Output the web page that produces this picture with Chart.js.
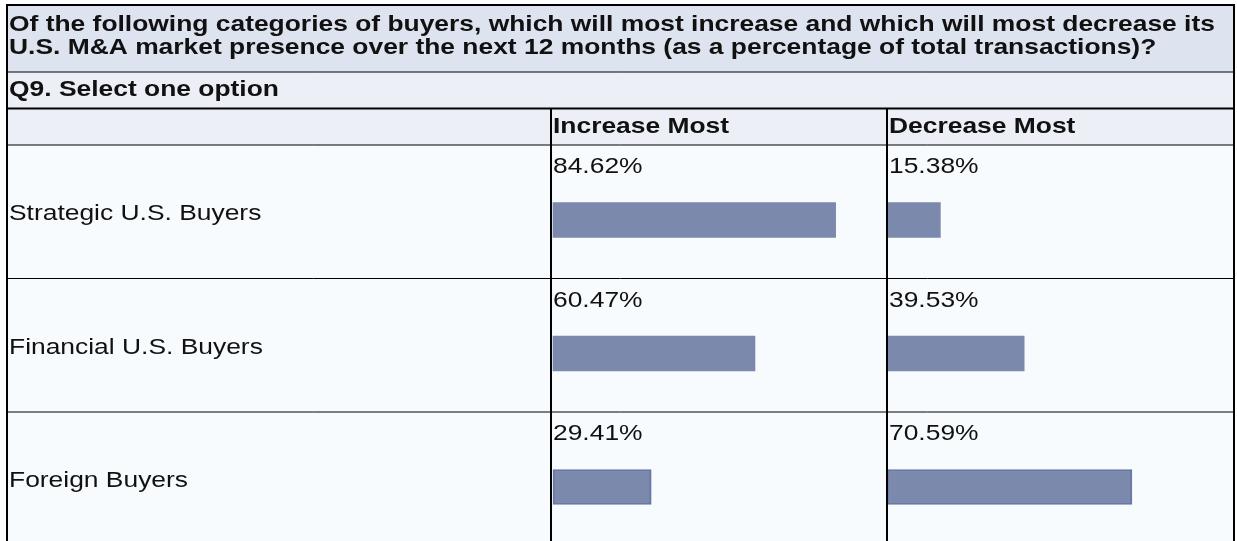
<!DOCTYPE html>
<html lang="en">
<head>
    <meta charset="UTF-8">
    <title>Q9. Buyer categories - U.S. M&amp;A market presence</title>
    <script src="https://cdn.jsdelivr.net/npm/chart.js"></script>
    <style>
        body { margin: 0; background: #ffffff; }
        canvas { display: block; }
    </style>
</head>
<body>
    <canvas id="surveyChart" width="1237" height="541"></canvas>

    <script>
        // Survey question and answer data
        const titleLines = [
            'Of the following categories of buyers, which will most increase and which will most decrease its',
            'U.S. M&A market presence over the next 12 months (as a percentage of total transactions)?'
        ];
        const questionLabel = 'Q9. Select one option';
        const columnHeaders = ['Increase Most', 'Decrease Most'];
        const categories = ['Strategic U.S. Buyers', 'Financial U.S. Buyers', 'Foreign Buyers'];
        const increaseMost = [84.62, 60.47, 29.41];
        const decreaseMost = [15.38, 39.53, 70.59];

        const barColor = '#7b89ac';
        const barEdge = '#6878a5';
        const FONT = '"Liberation Sans", Arial, sans-serif';
        const STRETCH = 1.2;

        // draws text a little wider than the font's natural metrics
        function wideText(ctx, text, x, y, font) {
            ctx.save();
            ctx.font = font;
            ctx.textBaseline = 'middle';
            ctx.textAlign = 'left';
            ctx.translate(x, y);
            ctx.scale(STRETCH, 1);
            ctx.fillText(text, 0, 0);
            ctx.restore();
        }

        function hLine(ctx, x1, x2, y, w) {
            ctx.lineWidth = w;
            ctx.beginPath();
            ctx.moveTo(x1, y);
            ctx.lineTo(x2, y);
            ctx.stroke();
        }

        function vLine(ctx, x, y1, y2, w) {
            ctx.lineWidth = w;
            ctx.beginPath();
            ctx.moveTo(x, y1);
            ctx.lineTo(x, y2);
            ctx.stroke();
        }

        // table geometry taken from the chart's own scales
        function tableGeometry(chart) {
            const y = chart.scales.y;
            const inc = chart.scales.xInc;
            const dec = chart.scales.xDec;
            const rows = categories.map((c, i) => {
                const mid = y.getPixelForValue(i);
                return { mid: mid, top: mid - 75, text: mid - 53 };
            });
            return {
                left: 7,
                right: chart.width - 3,
                bottom: chart.height,
                col1: inc.left - 2,
                col2: dec.left,
                incX: inc.left,
                decX: dec.left + 2,
                titleBottom: 72,
                questionBottom: 108.5,
                headerBottom: rows[0].top,
                rows: rows
            };
        }

        const tablePlugin = {
            id: 'surveyTable',
            beforeDraw(chart) {
                const ctx = chart.ctx;
                const g = tableGeometry(chart);
                ctx.save();
                ctx.fillStyle = '#ffffff';
                ctx.fillRect(0, 0, chart.width, chart.height);
                ctx.fillStyle = '#dde3ef';
                ctx.fillRect(g.left, 5, g.right - g.left, g.titleBottom - 5);
                ctx.fillStyle = '#edeff7';
                ctx.fillRect(g.left, g.titleBottom, g.right - g.left, g.headerBottom - g.titleBottom);
                ctx.fillStyle = '#f7fbfd';
                ctx.fillRect(g.left, g.headerBottom, g.right - g.left, g.bottom - g.headerBottom);
                ctx.restore();
            },
            afterDatasetsDraw(chart) {
                const ctx = chart.ctx;
                const g = tableGeometry(chart);
                ctx.save();
                ctx.strokeStyle = '#000000';

                // outer frame
                hLine(ctx, g.left - 1, g.right + 1, 5, 2);
                vLine(ctx, g.left, 5, g.bottom, 2);
                vLine(ctx, g.right, 5, g.bottom, 2);

                // row separators
                hLine(ctx, g.left, g.right, g.titleBottom, 1);
                hLine(ctx, g.left, g.right, g.questionBottom, 2);
                g.rows.forEach(r => hLine(ctx, g.left, g.right, r.top, 1));

                // column separators
                vLine(ctx, g.col1, g.questionBottom, g.bottom, 2);
                vLine(ctx, g.col2, g.questionBottom, g.bottom, 2);

                // texts
                ctx.fillStyle = '#111111';
                const bold = 'bold 22px ' + FONT;
                const plain = '22px ' + FONT;
                wideText(ctx, titleLines[0], 9, 25, bold);
                wideText(ctx, titleLines[1], 9, 48, bold);
                wideText(ctx, questionLabel, 9, 90, bold);
                wideText(ctx, columnHeaders[0], g.incX, 127, bold);
                wideText(ctx, columnHeaders[1], g.decX, 127, bold);

                g.rows.forEach((r, i) => {
                    wideText(ctx, categories[i], 9, r.mid - 6, plain);
                    wideText(ctx, increaseMost[i].toFixed(2) + '%', g.incX, r.text, plain);
                    wideText(ctx, decreaseMost[i].toFixed(2) + '%', g.decX, r.text, plain);
                });
                ctx.restore();
            }
        };

        const config = {
            type: 'bar',
            data: {
                labels: categories,
                datasets: [{
                    label: columnHeaders[0],
                    data: increaseMost,
                    xAxisID: 'xInc',
                    backgroundColor: barColor,
                    borderColor: barEdge,
                    borderWidth: [0, 0, 2],
                    borderSkipped: false,
                    barThickness: 35,
                    clip: false
                }, {
                    label: columnHeaders[1],
                    data: decreaseMost,
                    xAxisID: 'xDec',
                    backgroundColor: barColor,
                    borderColor: barEdge,
                    borderWidth: [0, 0, 2],
                    borderSkipped: false,
                    barThickness: 35,
                    clip: false
                }]
            },
            options: {
                indexAxis: 'y',
                grouped: false,
                responsive: false,
                animation: false,
                layout: {
                    padding: { left: 553, right: 3, top: 220, bottom: 54 }
                },
                scales: {
                    y: {
                        type: 'category',
                        offset: false,
                        display: false
                    },
                    xInc: {
                        type: 'linear',
                        position: 'bottom',
                        min: 0,
                        max: 100,
                        display: false,
                        stack: 'columns',
                        stackWeight: 334
                    },
                    xDec: {
                        type: 'linear',
                        position: 'bottom',
                        min: 0,
                        max: 100,
                        display: false,
                        stack: 'columns',
                        stackWeight: 347
                    }
                },
                plugins: {
                    legend: { display: false },
                    tooltip: { enabled: false }
                }
            },
            plugins: [tablePlugin]
        };

        const ctx = document.getElementById('surveyChart').getContext('2d');
        new Chart(ctx, config);
    </script>
</body>
</html>
